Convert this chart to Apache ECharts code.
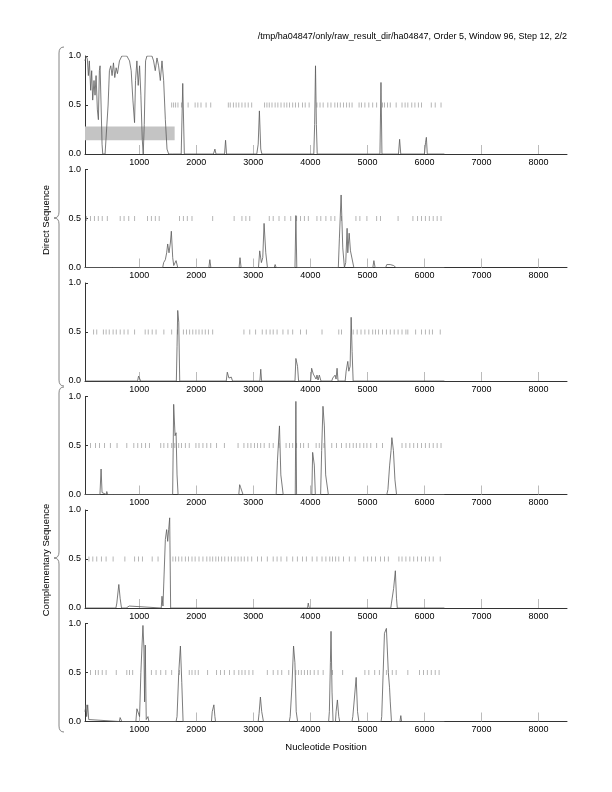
<!DOCTYPE html>
<html><head><meta charset="utf-8">
<script src="https://cdn.jsdelivr.net/npm/echarts@6/dist/echarts.min.js"></script>
<style>html,body{margin:0;padding:0;background:#fff}#c{width:612px;height:792px}</style>
</head><body><div id="c"></div>
<script>
const titleText = "/tmp/ha04847/only/raw_result_dir/ha04847, Order 5, Window 96, Step 12, 2/2";
const xTitle = "Nucleotide Position";
const groupTitles = ["Direct Sequence", "Complementary Sequence"];
const xTicks = [1000,2000,3000,4000,5000,6000,7000,8000];
const yTicks = [0, 0.5, 1];
const xMin = 48, xMax = 8500;
const band = {start: 48, end: 1620, low: 0.14, high: 0.28};

const direct1 = [[48,0.95],[66,1.0],[89,0.97],[107,0.8],[124,0.95],[148,0.65],[165,0.85],[183,0.55],[206,0.75],[224,0.6],[242,0.8],[265,0.45],[283,0.35],[300,0.85],[312,0.9],[330,0.5],[347,0.1],[359,0],[400,0],[430,0.02],[453,0.5],[476,0.85],[500,0.9],[523,0.8],[547,0.93],[570,0.78],[594,0.88],[617,0.82],[652,0.95],[694,1.0],[782,1.0],[829,0.95],[858,0.85],[888,0.55],[917,0.32],[934,0.75],[958,0.95],[981,0.7],[1005,0.9],[1028,0.6],[1052,0.15],[1069,0],[1087,0.3],[1110,0.95],[1134,1.0],[1222,1.0],[1251,0.95],[1280,0.85],[1310,0.98],[1339,0.9],[1369,0.75],[1398,0.95],[1427,0.75],[1457,0.35],[1486,0.05],[1515,0],[1545,0.02],[1580,0],[1735,0],[1762,0.72],[1790,0],[2300,0],[2326,0.05],[2345,0],[2495,0],[2513,0.14],[2530,0],[3060,0],[3085,0.1],[3106,0.44],[3130,0.05],[3150,0],[4060,0],[4075,0.3],[4090,0.9],[4105,0.3],[4120,0],[5220,0],[5238,0.73],[5255,0],[5545,0],[5565,0.15],[5585,0],[6000,0],[6020,0.12],[6034,0.17],[6050,0],[6350,0]];
const direct2 = [[48,0],[530,0],[547,0.02],[565,0],[1410,0],[1427,0.05],[1457,0.08],[1480,0.15],[1498,0.24],[1521,0.15],[1545,0.25],[1562,0.37],[1586,0.1],[1604,0.02],[1625,0],[1645,0.07],[1674,0],[2220,0],[2237,0.08],[2255,0],[2750,0],[2766,0.1],[2785,0],[3090,0],[3112,0.17],[3141,0.05],[3165,0.1],[3188,0.45],[3218,0.15],[3247,0],[3365,0],[3382,0.03],[3400,0],[3730,0],[3746,0.53],[3762,0],[4390,0],[4404,0.02],[4420,0],[4490,0],[4509,0.3],[4539,0.74],[4568,0.2],[4597,0],[4620,0.05],[4644,0.4],[4656,0.15],[4680,0.35],[4703,0.17],[4727,0.15],[4762,0],[5095,0],[5114,0.07],[5135,0],[5320,0],[5340,0.03],[5370,0.04],[5400,0.03],[5430,0.05],[5460,0.02],[5500,0],[6350,0]];
const direct3 = [[48,0],[150,0],[165,0.01],[180,0],[970,0],[987,0.05],[1005,0.03],[1025,0],[1650,0],[1662,0.35],[1674,0.72],[1692,0.6],[1709,0],[2525,0],[2543,0.09],[2572,0.03],[2595,0.01],[2613,0.04],[2635,0],[2660,0.02],[2680,0],[3115,0],[3130,0.12],[3145,0],[3730,0],[3746,0.23],[3775,0.15],[3793,0],[4005,0],[4022,0.13],[4052,0.07],[4081,0.08],[4100,0.02],[4116,0.06],[4135,0.01],[4157,0.06],[4186,0],[4375,0],[4392,0.03],[4415,0.01],[4433,0.06],[4450,0.02],[4468,0.13],[4485,0],[4610,0],[4627,0.1],[4656,0.2],[4674,0.1],[4697,0.15],[4715,0.65],[4732,0.3],[4750,0],[6350,0]];
const comp1 = [[48,0],[310,0],[330,0.26],[347,0.02],[370,0],[420,0],[430,0.03],[445,0],[555,0],[564,0.02],[575,0],[1585,0],[1603,0.92],[1627,0.6],[1645,0.63],[1662,0.2],[1680,0],[2745,0],[2760,0.1],[2778,0.07],[2795,0.08],[2819,0],[3400,0],[3423,0.35],[3458,0.7],[3482,0.2],[3499,0.18],[3523,0],[3735,0],[3746,0.95],[3758,0],[4025,0],[4040,0.43],[4069,0.3],[4087,0],[4180,0],[4198,0.45],[4221,0.9],[4245,0.7],[4268,0.2],[4292,0.18],[4315,0],[5115,0],[5126,0.01],[5140,0],[5340,0],[5360,0.05],[5390,0.3],[5415,0.45],[5429,0.58],[5456,0.45],[5483,0.15],[5511,0],[6350,0]];
const comp2 = [[48,0],[590,0],[606,0.05],[641,0.24],[664,0.1],[688,0],[770,0],[782,0.01],[800,0],[823,0.02],[840,0],[1385,0],[1398,0.12],[1415,0.02],[1427,0.02],[1457,0.7],[1480,0.8],[1498,0.68],[1515,0.8],[1533,0.92],[1550,0],[3205,0],[3218,0.01],[3230,0],[3470,0],[3482,0.01],[3495,0],[3950,0],[3963,0.05],[3980,0],[4010,0.02],[4025,0],[5410,0],[5422,0.05],[5460,0.2],[5490,0.38],[5510,0.1],[5524,0],[6350,0]];
const comp3 = [[48,0.1],[66,0.17],[77,0.05],[95,0.17],[113,0.02],[136,0],[650,0],[664,0.04],[694,0],[940,0],[958,0.13],[987,0.15],[1005,0.05],[1028,0.5],[1046,0.75],[1064,0.98],[1081,0.75],[1093,0.2],[1105,0.78],[1122,0.02],[1152,0.05],[1169,0],[1645,0],[1662,0.05],[1692,0.5],[1721,0.77],[1745,0.4],[1768,0],[2265,0],[2279,0.1],[2308,0.17],[2326,0.05],[2337,0],[3085,0],[3100,0.08],[3124,0.25],[3147,0.1],[3177,0],[3630,0],[3646,0.05],[3676,0.35],[3705,0.77],[3729,0.6],[3752,0.1],[3776,0],[4320,0],[4333,0.1],[4351,0.6],[4362,0.92],[4380,0.3],[4398,0],[4440,0],[4451,0.1],[4474,0.22],[4498,0.05],[4515,0],[4730,0],[4744,0.05],[4774,0.25],[4803,0.45],[4827,0.1],[4850,0],[5070,0],[5084,0.02],[5100,0],[5240,0],[5251,0.05],[5299,0.9],[5333,0.95],[5367,0.5],[5388,0.35],[5401,0.2],[5422,0],[5570,0],[5586,0.06],[5600,0],[5800,0],[5812,0.02],[5825,0],[6350,0]];

const dashes1 = [1568,1602,1637,1678,1739,1856,1979,2027,2082,2171,2253,2561,2595,2650,2698,2745,2800,2855,2910,2971,3197,3238,3279,3327,3382,3430,3485,3540,3587,3635,3690,3738,3793,3861,3909,3978,4115,4169,4224,4306,4361,4429,4477,4525,4580,4635,4683,4731,4854,4895,4956,5025,5093,5162,5264,5299,5353,5401,5504,5607,5661,5709,5778,5833,5894,5949,6120,6189,6291];
const dashes2 = [76,144,213,281,350,439,665,733,815,918,1144,1212,1281,1349,1705,1773,1842,1924,2287,2663,2800,2869,2937,3279,3348,3450,3553,3656,3759,3827,3895,3964,4115,4183,4272,4361,4429,4546,4799,4868,4991,5162,5230,5538,5798,5880,5949,6017,6086,6154,6223,6291];
const dashes3 = [199,254,370,418,473,541,596,665,733,802,918,1103,1157,1226,1294,1431,1568,1671,1773,1828,1883,1938,1993,2047,2102,2157,2212,2287,2835,2937,3040,3156,3225,3293,3348,3416,3519,3608,3690,3827,3930,4204,4498,4546,4751,4820,4888,4956,5025,5093,5141,5196,5264,5333,5401,5470,5538,5607,5675,5709,5846,5949,6017,6086,6140,6277];
const dashes4 = [144,233,302,391,493,610,781,904,973,1041,1110,1178,1376,1431,1500,1568,1623,1691,1739,1808,1876,1993,2047,2116,2184,2253,2355,2492,2732,2835,2903,2958,3019,3074,3129,3190,3279,3348,3450,3574,3635,3690,3759,3827,3882,3964,4101,4156,4238,4375,4457,4546,4628,4690,4751,4806,4868,4936,4991,5059,5162,5264,5607,5675,5744,5812,5880,5949,6017,6086,6154,6223,6291];
const dashes5 = [117,185,254,336,418,541,747,918,986,1055,1226,1329,1589,1637,1691,1746,1808,1862,1924,1979,2047,2116,2184,2239,2287,2342,2390,2444,2499,2561,2615,2677,2732,2787,2841,2903,2971,3074,3142,3245,3348,3416,3485,3587,3690,3772,3861,3930,4032,4115,4204,4272,4340,4388,4443,4498,4580,4683,4785,4936,5005,5073,5141,5230,5299,5367,5552,5607,5675,5744,5812,5880,5949,6017,6086,6154,6277];
const dashes6 = [144,233,281,350,418,596,781,829,884,1212,1294,1376,1465,1568,1705,1876,1924,1979,2034,2198,2355,2424,2492,2581,2663,2745,2800,2855,2923,2992,3245,3348,3430,3498,3621,3745,3793,3841,3895,3950,3998,4067,4135,4224,4388,4566,4956,5025,5128,5210,5333,5436,5504,5709,5914,5983,6051,6120,6189,6257];

const panels = [direct1, direct2, direct3, comp1, comp2, comp3];
const dashSets = [dashes1, dashes2, dashes3, dashes4, dashes5, dashes6];

const FONT = "'Liberation Sans', Arial, sans-serif";
const gridTops = [56, 169.5, 283, 396.5, 510, 623.5];
const gridH = 98;

const grids = [], xAxes = [], yAxes = [], series = [];
panels.forEach((d, i) => {
  grids.push({left: 85, right: 45, top: gridTops[i], height: gridH});
  xAxes.push({
    type: 'value', gridIndex: i, min: xMin, max: xMax,
    axisLine: {show: true, onZero: false, lineStyle: {color: '#333', width: 1}},
    axisTick: {show: true, inside: true, length: 9, customValues: xTicks, lineStyle: {color: '#bbb', width: 1}},
    axisLabel: {show: true, customValues: xTicks, fontSize: 9, color: '#000', fontFamily: FONT, margin: 4, formatter: v => String(Math.round(v))},
    splitLine: {show: false}
  });
  yAxes.push({
    type: 'value', gridIndex: i, min: 0, max: 1, interval: 0.5,
    axisLine: {show: true, lineStyle: {color: '#333', width: 1}},
    axisTick: {show: true, inside: true, length: 3, lineStyle: {color: '#333'}},
    axisLabel: {fontSize: 9, color: '#000', fontFamily: FONT, margin: 4, formatter: v => v.toFixed(1)},
    splitLine: {show: false}
  });
  const s = {
    type: 'line', xAxisIndex: i, yAxisIndex: i, data: d, showSymbol: false, symbol: 'none',
    lineStyle: {color: '#5a5a5a', width: 0.8}, animation: false, z: 3
  };
  if (i === 0) {
    s.markArea = {silent: true, itemStyle: {color: '#c4c4c4', opacity: 1},
      data: [[{coord: [band.start, band.low]}, {coord: [band.end, band.high]}]]};
  }
  series.push(s);
  series.push({
    type: 'scatter', xAxisIndex: i, yAxisIndex: i,
    data: dashSets[i].map(x => [x, 0.5]),
    symbol: 'rect', symbolSize: [0.9, 5], itemStyle: {color: '#9a9a9a'}, animation: false, silent: true, z: 2
  });
});

function brace(top, tip, bottom) {
  const sx = 59, ex = 64, tx = 54, r = 6;
  const st = {stroke: '#666', fill: null, lineWidth: 0.8};
  return [
    {type: 'bezierCurve', shape: {x1: ex, y1: top, cpx1: sx, cpy1: top, x2: sx, y2: top + r}, style: st},
    {type: 'line', shape: {x1: sx, y1: top + r, x2: sx, y2: tip - r}, style: st},
    {type: 'bezierCurve', shape: {x1: sx, y1: tip - r, cpx1: sx, cpy1: tip, x2: tx, y2: tip}, style: st},
    {type: 'bezierCurve', shape: {x1: tx, y1: tip, cpx1: sx, cpy1: tip, x2: sx, y2: tip + r}, style: st},
    {type: 'line', shape: {x1: sx, y1: tip + r, x2: sx, y2: bottom - r}, style: st},
    {type: 'bezierCurve', shape: {x1: sx, y1: bottom - r, cpx1: sx, cpy1: bottom, x2: ex, y2: bottom}, style: st}
  ];
}

const chart = echarts.init(document.getElementById('c'), null, {renderer: 'canvas'});
chart.setOption({
  backgroundColor: '#fff',
  animation: false,
  grid: grids, xAxis: xAxes, yAxis: yAxes, series: series,
  graphic: [
    {type: 'text', x: 567, y: 37, style: {text: titleText, font: '9px ' + FONT, fill: '#000', textAlign: 'right', textVerticalAlign: 'middle'}},
    {type: 'text', x: 326, y: 747, style: {text: xTitle, font: '9.5px ' + FONT, fill: '#000', textAlign: 'center', textVerticalAlign: 'middle'}},
    {type: 'text', x: 46, y: 220, rotation: Math.PI / 2, style: {text: groupTitles[0], font: '9.5px ' + FONT, fill: '#000', textAlign: 'center', textVerticalAlign: 'middle'}},
    {type: 'text', x: 46, y: 560, rotation: Math.PI / 2, style: {text: groupTitles[1], font: '9.5px ' + FONT, fill: '#000', textAlign: 'center', textVerticalAlign: 'middle'}}
  ].concat(brace(47, 218, 386), brace(387, 558, 732))
});
</script></body></html>
